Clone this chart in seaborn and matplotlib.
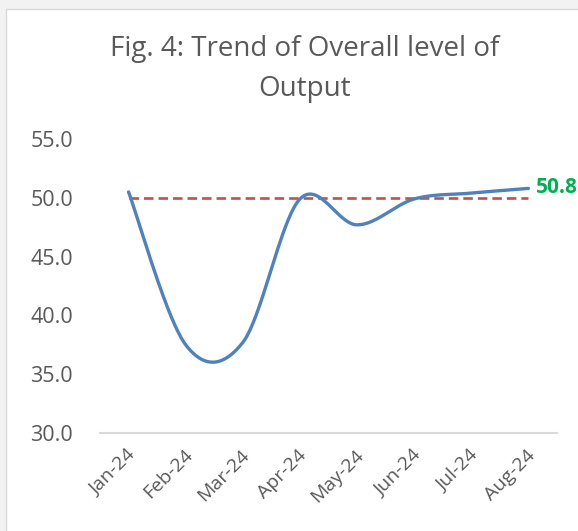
import numpy as np
import pandas as pd
import matplotlib
matplotlib.use("Agg")
import matplotlib.pyplot as plt
import matplotlib.transforms as mtransforms
import seaborn as sns

months = ["Jan-24", "Feb-24", "Mar-24", "Apr-24", "May-24", "Jun-24", "Jul-24", "Aug-24"]
output_level = [50.5, 37.5, 37.7, 49.9, 47.7, 49.9, 50.4, 50.8]
threshold = [50.0] * len(months)
title_text = "Fig. 4: Trend of Overall level of\nOutput"
y_ticks = [30, 35, 40, 45, 50, 55]

sns.set_theme(style="white")
plt.rcParams["font.family"] = ["Open Sans", "DejaVu Sans"]


def catmull_rom(xs, ys, n=40):
    xs = np.asarray(xs, float)
    ys = np.asarray(ys, float)
    px = np.concatenate([[xs[0]], xs, [xs[-1]]])
    py = np.concatenate([[ys[0]], ys, [ys[-1]]])
    outx, outy = [], []
    t = np.linspace(0, 1, n)
    h00 = 2 * t**3 - 3 * t**2 + 1
    h10 = t**3 - 2 * t**2 + t
    h01 = -2 * t**3 + 3 * t**2
    h11 = t**3 - t**2
    for i in range(1, len(px) - 2):
        mx1 = (px[i + 1] - px[i - 1]) / 2
        mx2 = (px[i + 2] - px[i]) / 2
        my1 = (py[i + 1] - py[i - 1]) / 2
        my2 = (py[i + 2] - py[i]) / 2
        outx.append(h00 * px[i] + h10 * mx1 + h01 * px[i + 1] + h11 * mx2)
        outy.append(h00 * py[i] + h10 * my1 + h01 * py[i + 1] + h11 * my2)
    return np.concatenate(outx), np.concatenate(outy)


x_idx = np.arange(len(months))
sx, sy = catmull_rom(x_idx, output_level)
smooth_df = pd.DataFrame({"x": sx, "y": sy})
thr_df = pd.DataFrame({"x": x_idx, "y": threshold})

fig = plt.figure(figsize=(5.78, 5.31), dpi=100)
fig.patch.set_facecolor("#F2F2F2")
# white chart area with thin border
bg = plt.Rectangle((6 / 578, -0.01), 1, 1.01 - 9 / 531, transform=fig.transFigure,
                   facecolor="white", edgecolor="#D9D9D9", linewidth=1.0, zorder=-10)
fig.patches.append(bg)

ax = fig.add_axes([100 / 578, (531 - 433) / 531, (557 - 100) / 578, (433 - 139) / 531])
ax.set_facecolor("none")
ax.set_zorder(5)

sns.lineplot(data=thr_df, x="x", y="y", ax=ax, color="#C0504D", linewidth=1.9,
             sort=False)
ax.lines[-1].set_dashes((3.6, 1.9))
sns.lineplot(data=smooth_df, x="x", y="y", ax=ax, color="#4F81BD", linewidth=2.4,
             sort=False)

ax.set_xlim(-0.5, len(months) - 0.5)
ax.set_ylim(30, 55)
ax.set_yticks(y_ticks)
ax.set_yticklabels([f"{v:.1f}" for v in y_ticks], fontsize=15.5, color="#595959")
ax.set_xticks(x_idx)
ax.set_xticklabels(months, rotation=45, ha="right", va="center",
                   rotation_mode="anchor", fontsize=14, color="#595959")
ax.set_xticks(np.arange(-0.5, len(months)), minor=True)
ax.tick_params(axis="x", which="major", length=0, pad=14)
ax.tick_params(axis="x", which="minor", length=5, width=1.2, color="#D9D9D9")
ax.tick_params(axis="y", length=0, pad=50)
offset = mtransforms.ScaledTranslation(4 / 100, 0, fig.dpi_scale_trans)
for lbl in ax.get_xticklabels():
    lbl.set_transform(lbl.get_transform() + offset)
for lbl in ax.get_yticklabels():
    lbl.set_horizontalalignment("left")
ax.set_xlabel("")
ax.set_ylabel("")
for s in ["left", "top", "right"]:
    ax.spines[s].set_visible(False)
ax.spines["bottom"].set_color("#D9D9D9")
ax.spines["bottom"].set_linewidth(1.5)

ax.annotate(f"{output_level[-1]:.1f}", xy=(x_idx[-1], output_level[-1]),
            xytext=(5.5, 1), textcoords="offset points", ha="left", va="center",
            fontsize=15, fontweight="bold", color="#00B050", annotation_clip=False)

fig.text(305 / 578, 1 - 69 / 531, title_text, ha="center", va="center",
         fontsize=20, color="#595959", linespacing=1.55)

fig.savefig("out.png", dpi=100)
